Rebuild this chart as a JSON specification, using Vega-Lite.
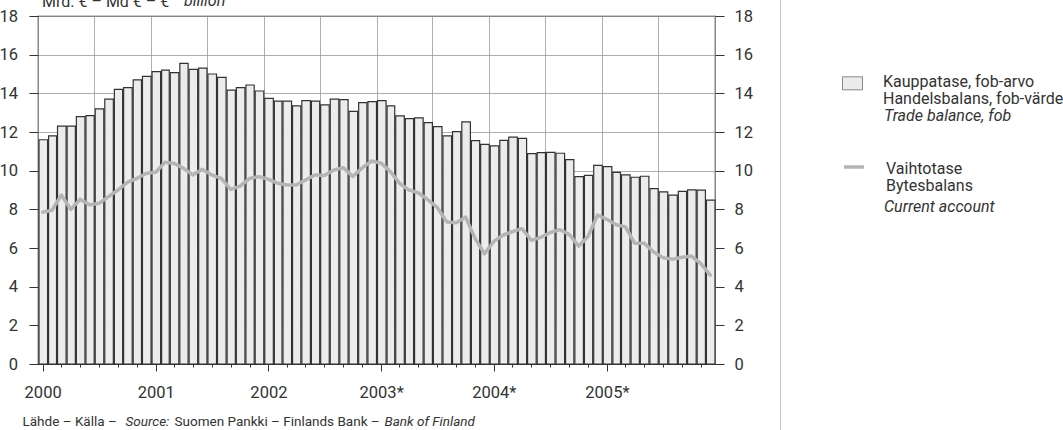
{
  "$schema": "https://vega.github.io/schema/vega-lite/v6.json",
  "width": 677,
  "height": 348,
  "autosize": {"type": "none"},
  "padding": {"left": 38, "top": 16, "right": 348, "bottom": 66},
  "background": "white",
  "title": {
    "text": "Mrd. € – Md € – €",
    "anchor": "start",
    "frame": "group",
    "dx": 4,
    "offset": -25,
    "fontSize": 16,
    "fontWeight": "normal",
    "color": "#333"
  },
  "data": {
    "values": [
      {"m": "2000-01", "trade": 11.6, "ca": 7.85},
      {"m": "2000-02", "trade": 11.8, "ca": 7.95},
      {"m": "2000-03", "trade": 12.3, "ca": 8.74},
      {"m": "2000-04", "trade": 12.3, "ca": 8.0},
      {"m": "2000-05", "trade": 12.8, "ca": 8.52},
      {"m": "2000-06", "trade": 12.85, "ca": 8.23},
      {"m": "2000-07", "trade": 13.2, "ca": 8.31},
      {"m": "2000-08", "trade": 13.7, "ca": 8.66},
      {"m": "2000-09", "trade": 14.2, "ca": 9.0},
      {"m": "2000-10", "trade": 14.3, "ca": 9.4},
      {"m": "2000-11", "trade": 14.7, "ca": 9.6},
      {"m": "2000-12", "trade": 14.88, "ca": 9.86},
      {"m": "2001-01", "trade": 15.12, "ca": 9.92},
      {"m": "2001-02", "trade": 15.2, "ca": 10.43},
      {"m": "2001-03", "trade": 15.07, "ca": 10.38},
      {"m": "2001-04", "trade": 15.55, "ca": 10.12},
      {"m": "2001-05", "trade": 15.24, "ca": 9.78},
      {"m": "2001-06", "trade": 15.3, "ca": 10.07},
      {"m": "2001-07", "trade": 15.0, "ca": 9.78},
      {"m": "2001-08", "trade": 14.83, "ca": 9.6},
      {"m": "2001-09", "trade": 14.17, "ca": 9.03},
      {"m": "2001-10", "trade": 14.3, "ca": 9.2},
      {"m": "2001-11", "trade": 14.43, "ca": 9.6},
      {"m": "2001-12", "trade": 14.12, "ca": 9.69},
      {"m": "2002-01", "trade": 13.74, "ca": 9.55},
      {"m": "2002-02", "trade": 13.6, "ca": 9.35},
      {"m": "2002-03", "trade": 13.6, "ca": 9.26},
      {"m": "2002-04", "trade": 13.35, "ca": 9.26},
      {"m": "2002-05", "trade": 13.62, "ca": 9.52},
      {"m": "2002-06", "trade": 13.6, "ca": 9.78},
      {"m": "2002-07", "trade": 13.4, "ca": 9.75},
      {"m": "2002-08", "trade": 13.7, "ca": 10.04},
      {"m": "2002-09", "trade": 13.67, "ca": 10.15},
      {"m": "2002-10", "trade": 13.07, "ca": 9.7},
      {"m": "2002-11", "trade": 13.52, "ca": 10.15},
      {"m": "2002-12", "trade": 13.57, "ca": 10.5},
      {"m": "2003-01", "trade": 13.62, "ca": 10.38},
      {"m": "2003-02", "trade": 13.35, "ca": 9.95},
      {"m": "2003-03", "trade": 12.83, "ca": 9.35},
      {"m": "2003-04", "trade": 12.69, "ca": 9.0},
      {"m": "2003-05", "trade": 12.73, "ca": 8.85},
      {"m": "2003-06", "trade": 12.48, "ca": 8.5},
      {"m": "2003-07", "trade": 12.28, "ca": 8.1},
      {"m": "2003-08", "trade": 11.8, "ca": 7.35},
      {"m": "2003-09", "trade": 12.02, "ca": 7.3},
      {"m": "2003-10", "trade": 12.52, "ca": 7.6},
      {"m": "2003-11", "trade": 11.55, "ca": 6.5},
      {"m": "2003-12", "trade": 11.36, "ca": 5.7},
      {"m": "2004-01", "trade": 11.28, "ca": 6.35},
      {"m": "2004-02", "trade": 11.57, "ca": 6.67},
      {"m": "2004-03", "trade": 11.74, "ca": 6.85},
      {"m": "2004-04", "trade": 11.67, "ca": 7.0},
      {"m": "2004-05", "trade": 10.88, "ca": 6.4},
      {"m": "2004-06", "trade": 10.93, "ca": 6.55},
      {"m": "2004-07", "trade": 10.95, "ca": 6.8},
      {"m": "2004-08", "trade": 10.9, "ca": 6.95},
      {"m": "2004-09", "trade": 10.57, "ca": 6.7},
      {"m": "2004-10", "trade": 9.69, "ca": 6.1},
      {"m": "2004-11", "trade": 9.76, "ca": 6.6},
      {"m": "2004-12", "trade": 10.27, "ca": 7.7},
      {"m": "2005-01", "trade": 10.21, "ca": 7.48},
      {"m": "2005-02", "trade": 9.91, "ca": 7.2},
      {"m": "2005-03", "trade": 9.78, "ca": 7.1},
      {"m": "2005-04", "trade": 9.66, "ca": 6.25},
      {"m": "2005-05", "trade": 9.71, "ca": 6.25},
      {"m": "2005-06", "trade": 9.07, "ca": 5.8},
      {"m": "2005-07", "trade": 8.9, "ca": 5.5},
      {"m": "2005-08", "trade": 8.73, "ca": 5.42},
      {"m": "2005-09", "trade": 8.93, "ca": 5.52},
      {"m": "2005-10", "trade": 9.01, "ca": 5.58},
      {"m": "2005-11", "trade": 8.99, "ca": 5.2},
      {"m": "2005-12", "trade": 8.48, "ca": 4.6}
    ]
  },
  "resolve": {"axis": {"x": "independent", "y": "independent"}},
  "layer": [
    {
      "mark": {"type": "bar", "stroke": "#333", "strokeWidth": 1.2},
      "encoding": {
        "x": {
          "field": "m", "timeUnit": "utcyearmonth", "type": "temporal",
          "scale": {"domain": [{"year": 2000, "month": 1, "date": 1, "utc": true}, {"year": 2006, "month": 1, "date": 1, "utc": true}]},
          "axis": {
            "orient": "top",
            "values": [
              {"year": 2000, "month": 1, "date": 1, "utc": true},
              {"year": 2000, "month": 7, "date": 1, "utc": true},
              {"year": 2001, "month": 1, "date": 1, "utc": true},
              {"year": 2001, "month": 7, "date": 1, "utc": true},
              {"year": 2002, "month": 1, "date": 1, "utc": true},
              {"year": 2002, "month": 7, "date": 1, "utc": true},
              {"year": 2003, "month": 1, "date": 1, "utc": true},
              {"year": 2003, "month": 7, "date": 1, "utc": true},
              {"year": 2004, "month": 1, "date": 1, "utc": true},
              {"year": 2004, "month": 7, "date": 1, "utc": true},
              {"year": 2005, "month": 1, "date": 1, "utc": true},
              {"year": 2005, "month": 7, "date": 1, "utc": true},
              {"year": 2006, "month": 1, "date": 1, "utc": true}
            ],
            "domain": false,
            "labels": false,
            "ticks": false,
            "grid": true,
            "gridColor": "#9a9a9a",
            "gridWidth": 0.8,
            "title": "Source:",
            "titleFontStyle": "italic",
            "titleX": 87,
            "titleY": 409,
            "titleAngle": 0,
            "titleAlign": "left",
            "titleBaseline": "alphabetic"
          }
        },
        "y": {
          "field": "trade", "type": "quantitative",
          "scale": {"domain": [0, 18]},
          "axis": {
            "orient": "left",
            "values": [0, 2, 4, 6, 8, 10, 12, 14, 16, 18],
            "domain": false,
            "grid": true,
            "gridColor": "#9a9a9a",
            "gridWidth": 0.8,
            "tickSize": 9,
            "tickColor": "#333",
            "labelPadding": 11.5,
            "title": "Suomen Pankki – Finlands Bank –",
            "titleX": 136,
            "titleY": 409,
            "titleAngle": 0,
            "titleAlign": "left",
            "titleBaseline": "alphabetic"
          }
        },
        "fill": {
          "datum": "Kauppatase, fob-arvo|Handelsbalans, fob-värde",
          "type": "nominal",
          "scale": {"range": ["#ececec"]},
          "legend": {
            "orient": "none",
            "legendX": 804,
            "legendY": 60,
            "title": null,
            "symbolType": "M-1,-0.97H1V0.33H-1Z",
            "symbolSize": 400,
            "symbolStrokeColor": "#888",
            "symbolStrokeWidth": 1,
            "labelExpr": "split(datum.label, '|')",
            "labelBaseline": "alphabetic",
            "labelOffset": 20,
            "labelLimit": 300
          }
        },
        "opacity": {
          "datum": "billion",
          "type": "ordinal",
          "scale": {"range": [1, 1]},
          "legend": {
            "orient": "none",
            "legendX": 146,
            "legendY": -10,
            "title": "billion",
            "titleFontStyle": "italic",
            "titleFontSize": 16,
            "titleFontWeight": "normal",
            "titleColor": "#333",
            "titleBaseline": "alphabetic",
            "titlePadding": 0,
            "symbolSize": 0,
            "symbolStrokeWidth": 0,
            "symbolFillColor": "transparent",
            "symbolStrokeColor": "transparent",
            "labelExpr": "''"
          }
        }
      }
    },
    {
      "mark": {"type": "line", "strokeJoin": "round", "strokeCap": "round"},
      "encoding": {
        "x": {
          "field": "m", "timeUnit": "utcyearmonth", "type": "temporal", "bandPosition": 0.5,
          "scale": {"domain": [{"year": 2000, "month": 1, "date": 1, "utc": true}, {"year": 2006, "month": 1, "date": 1, "utc": true}]},
          "axis": {
            "orient": "bottom",
            "values": [
              {"year": 2000, "month": 1, "date": 16, "utc": true}, {"year": 2000, "month": 2, "date": 16, "utc": true}, {"year": 2000, "month": 3, "date": 16, "utc": true}, {"year": 2000, "month": 4, "date": 16, "utc": true}, {"year": 2000, "month": 5, "date": 16, "utc": true}, {"year": 2000, "month": 6, "date": 16, "utc": true}, {"year": 2000, "month": 7, "date": 16, "utc": true}, {"year": 2000, "month": 8, "date": 16, "utc": true}, {"year": 2000, "month": 9, "date": 16, "utc": true}, {"year": 2000, "month": 10, "date": 16, "utc": true}, {"year": 2000, "month": 11, "date": 16, "utc": true}, {"year": 2000, "month": 12, "date": 16, "utc": true},
              {"year": 2001, "month": 1, "date": 16, "utc": true}, {"year": 2001, "month": 2, "date": 16, "utc": true}, {"year": 2001, "month": 3, "date": 16, "utc": true}, {"year": 2001, "month": 4, "date": 16, "utc": true}, {"year": 2001, "month": 5, "date": 16, "utc": true}, {"year": 2001, "month": 6, "date": 16, "utc": true}, {"year": 2001, "month": 7, "date": 16, "utc": true}, {"year": 2001, "month": 8, "date": 16, "utc": true}, {"year": 2001, "month": 9, "date": 16, "utc": true}, {"year": 2001, "month": 10, "date": 16, "utc": true}, {"year": 2001, "month": 11, "date": 16, "utc": true}, {"year": 2001, "month": 12, "date": 16, "utc": true},
              {"year": 2002, "month": 1, "date": 16, "utc": true}, {"year": 2002, "month": 2, "date": 16, "utc": true}, {"year": 2002, "month": 3, "date": 16, "utc": true}, {"year": 2002, "month": 4, "date": 16, "utc": true}, {"year": 2002, "month": 5, "date": 16, "utc": true}, {"year": 2002, "month": 6, "date": 16, "utc": true}, {"year": 2002, "month": 7, "date": 16, "utc": true}, {"year": 2002, "month": 8, "date": 16, "utc": true}, {"year": 2002, "month": 9, "date": 16, "utc": true}, {"year": 2002, "month": 10, "date": 16, "utc": true}, {"year": 2002, "month": 11, "date": 16, "utc": true}, {"year": 2002, "month": 12, "date": 16, "utc": true},
              {"year": 2003, "month": 1, "date": 16, "utc": true}, {"year": 2003, "month": 2, "date": 16, "utc": true}, {"year": 2003, "month": 3, "date": 16, "utc": true}, {"year": 2003, "month": 4, "date": 16, "utc": true}, {"year": 2003, "month": 5, "date": 16, "utc": true}, {"year": 2003, "month": 6, "date": 16, "utc": true}, {"year": 2003, "month": 7, "date": 16, "utc": true}, {"year": 2003, "month": 8, "date": 16, "utc": true}, {"year": 2003, "month": 9, "date": 16, "utc": true}, {"year": 2003, "month": 10, "date": 16, "utc": true}, {"year": 2003, "month": 11, "date": 16, "utc": true}, {"year": 2003, "month": 12, "date": 16, "utc": true},
              {"year": 2004, "month": 1, "date": 16, "utc": true}, {"year": 2004, "month": 2, "date": 16, "utc": true}, {"year": 2004, "month": 3, "date": 16, "utc": true}, {"year": 2004, "month": 4, "date": 16, "utc": true}, {"year": 2004, "month": 5, "date": 16, "utc": true}, {"year": 2004, "month": 6, "date": 16, "utc": true}, {"year": 2004, "month": 7, "date": 16, "utc": true}, {"year": 2004, "month": 8, "date": 16, "utc": true}, {"year": 2004, "month": 9, "date": 16, "utc": true}, {"year": 2004, "month": 10, "date": 16, "utc": true}, {"year": 2004, "month": 11, "date": 16, "utc": true}, {"year": 2004, "month": 12, "date": 16, "utc": true},
              {"year": 2005, "month": 1, "date": 16, "utc": true}, {"year": 2005, "month": 2, "date": 16, "utc": true}, {"year": 2005, "month": 3, "date": 16, "utc": true}, {"year": 2005, "month": 4, "date": 16, "utc": true}, {"year": 2005, "month": 5, "date": 16, "utc": true}, {"year": 2005, "month": 6, "date": 16, "utc": true}, {"year": 2005, "month": 7, "date": 16, "utc": true}, {"year": 2005, "month": 8, "date": 16, "utc": true}, {"year": 2005, "month": 9, "date": 16, "utc": true}, {"year": 2005, "month": 10, "date": 16, "utc": true}, {"year": 2005, "month": 11, "date": 16, "utc": true}, {"year": 2005, "month": 12, "date": 16, "utc": true}
            ],
            "domain": true,
            "domainColor": "#333",
            "domainWidth": 1.2,
            "ticks": true,
            "tickSize": {"condition": {"test": "utcmonth(datum.value) == 0", "value": 7}, "value": 3},
            "tickColor": "#333",
            "tickWidth": 1,
            "grid": false,
            "labelExpr": "utcmonth(datum.value) == 0 ? utcyear(datum.value) + (utcyear(datum.value) >= 2003 ? '*' : '') : ''",
            "labelOverlap": false,
            "labelFlush": false,
            "labelBound": false,
            "labelPadding": 13,
            "title": "Lähde – Källa –",
            "titleX": -16,
            "titleY": 61,
            "titleAngle": 0,
            "titleAlign": "left",
            "titleBaseline": "alphabetic"
          }
        },
        "y": {
          "field": "ca", "type": "quantitative",
          "scale": {"domain": [0, 18]},
          "axis": {
            "orient": "right",
            "values": [0, 2, 4, 6, 8, 10, 12, 14, 16, 18],
            "domain": false,
            "grid": false,
            "tickSize": 9,
            "tickColor": "#333",
            "labelPadding": 10,
            "title": "Bank of Finland",
            "titleFontStyle": "italic",
            "titleX": -331,
            "titleY": 409,
            "titleAngle": 0,
            "titleAlign": "left",
            "titleBaseline": "alphabetic"
          }
        },
        "stroke": {
          "datum": "Vaihtotase|Bytesbalans",
          "type": "nominal",
          "scale": {"range": ["#b5b5b5"]},
          "legend": {
            "orient": "none",
            "legendX": 804,
            "legendY": 146,
            "title": null,
            "symbolType": "M-1,-0.7H1",
            "symbolSize": 400,
            "symbolStrokeWidth": 3.5,
            "labelExpr": "split(datum.label, '|')",
            "labelBaseline": "alphabetic",
            "labelOffset": 20,
            "labelLimit": 300
          }
        },
        "strokeDash": {
          "datum": "Current account",
          "type": "nominal",
          "scale": {"domain": ["Trade balance, fob", "Current account"], "range": [[1, 0], [1, 0]]},
          "legend": {
            "orient": "none",
            "legendX": 804,
            "legendY": 94,
            "title": null,
            "symbolType": "stroke",
            "symbolSize": 400,
            "symbolOpacity": 0,
            "labelFontStyle": "italic",
            "labelBaseline": "alphabetic",
            "labelOffset": 20,
            "labelLimit": 300,
            "rowPadding": 75
          }
        },
        "strokeWidth": {
          "datum": "w",
          "type": "ordinal",
          "scale": {"range": [3.5, 3.5]},
          "legend": {
            "orient": "none",
            "legendX": 742,
            "legendY": -31,
            "padding": 240,
            "strokeColor": "#c8c8c8",
            "title": null,
            "symbolSize": 0,
            "symbolStrokeWidth": 0,
            "symbolFillColor": "transparent",
            "symbolStrokeColor": "transparent",
            "labelExpr": "''"
          }
        }
      }
    }
  ],
  "config": {
    "font": "Roboto",
    "view": {"stroke": "#333", "strokeWidth": 1.2},
    "style": {"guide-label": {"lineHeight": 17}},
    "axis": {
      "labelFontSize": 16.5,
      "labelColor": "#333",
      "titleFontSize": 13.5,
      "titleFontWeight": "normal",
      "titleColor": "#333"
    },
    "legend": {
      "labelFontSize": 16,
      "labelColor": "#333",
      "padding": 0,
      "offset": 0
    }
  }
}
